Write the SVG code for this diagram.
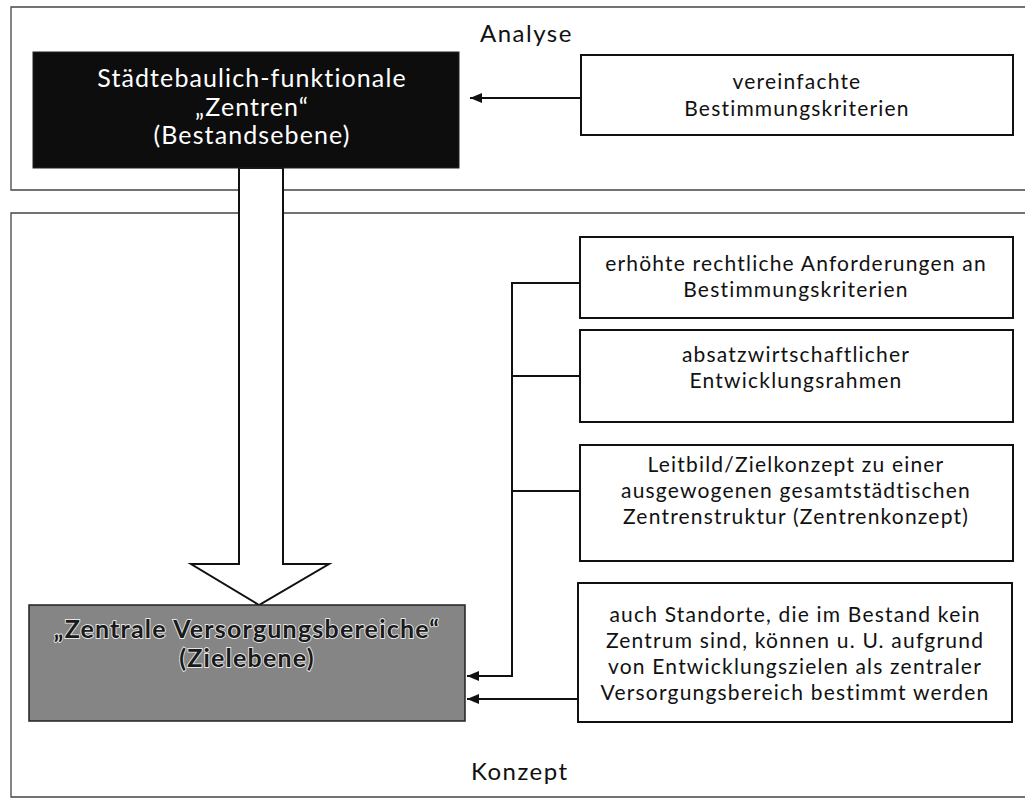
<svg xmlns="http://www.w3.org/2000/svg" width="1025" height="812" viewBox="0 0 1025 812">
<style>
.frame{fill:none;stroke:#444;stroke-width:1.3}
.box{fill:#fff;stroke:#111;stroke-width:2}
.t{font-family:Lato,"Noto Sans",sans-serif;font-size:21px;letter-spacing:1.2px;fill:#111;text-anchor:middle}
.lbl{font-family:Lato,"Noto Sans",sans-serif;font-size:24px;letter-spacing:1.5px;fill:#111}
.wt{font-family:Lato,"Noto Sans",sans-serif;font-size:25px;letter-spacing:1.1px;fill:#fff;text-anchor:middle}
.gt{font-family:Lato,"Noto Sans",sans-serif;font-size:25px;letter-spacing:1.2px;font-weight:bold;fill:#1a1a1a;stroke:#e6e6e6;stroke-width:1.8;paint-order:stroke;text-anchor:middle}
.ln{fill:none;stroke:#111;stroke-width:2}
</style>
<defs>
<marker id="ah" viewBox="0 0 12 10" refX="12" refY="5" markerWidth="12" markerHeight="10" markerUnits="userSpaceOnUse" orient="auto">
<path d="M0,0 L12,5 L0,10 Z" fill="#111"/>
</marker>
</defs>
<rect width="1025" height="812" fill="#fff"/>
<g id="frame-analyse">
<path class="frame" d="M1025,7 H11 V190 H1025"/>
<text class="lbl" x="480" y="42">Analyse</text>
</g>
<g id="frame-konzept">
<path class="frame" d="M1025,213 H11 V797 H1025"/>
<text class="lbl" x="471" y="780">Konzept</text>
</g>
<g id="big-arrow">
<polygon points="239,168 239,564 191,564 259,605 329,564 283,564 283,168" fill="#fff" stroke="#111" stroke-width="2" stroke-linejoin="miter"/>
</g>
<g id="zentren">
<rect x="33" y="52" width="426" height="116" fill="#0d0d0d" stroke="#222" stroke-width="1"/>
<text class="wt" x="252" y="87">Städtebaulich-funktionale</text>
<text class="wt" x="252" y="116">„Zentren“</text>
<text class="wt" x="252" y="144">(Bestandsebene)</text>
</g>
<g id="zvb">
<rect x="29" y="605" width="436" height="116" fill="#858585" stroke="#222" stroke-width="1.5"/>
<text class="gt" x="247" y="638">„Zentrale Versorgungsbereiche“</text>
<text class="gt" x="247" y="667">(Zielebene)</text>
</g>
<g id="box-vereinfacht">
<rect class="box" x="581" y="55" width="432" height="80"/>
<text class="t" x="797" y="89">vereinfachte</text>
<text class="t" x="797" y="116">Bestimmungskriterien</text>
</g>
<g id="box-erhoeht">
<rect class="box" x="580" y="237" width="433" height="81"/>
<text class="t" x="796" y="271">erhöhte rechtliche Anforderungen an</text>
<text class="t" x="796" y="297">Bestimmungskriterien</text>
</g>
<g id="box-absatz">
<rect class="box" x="580" y="330" width="433" height="92"/>
<text class="t" x="796" y="362">absatzwirtschaftlicher</text>
<text class="t" x="796" y="388">Entwicklungsrahmen</text>
</g>
<g id="box-leitbild">
<rect class="box" x="580" y="445" width="433" height="116"/>
<text class="t" x="796" y="472">Leitbild/Zielkonzept zu einer</text>
<text class="t" x="796" y="498">ausgewogenen gesamtstädtischen</text>
<text class="t" x="796" y="524">Zentrenstruktur (Zentrenkonzept)</text>
</g>
<g id="box-standorte">
<rect class="box" x="578" y="583" width="434" height="139"/>
<text class="t" x="795" y="622">auch Standorte, die im Bestand kein</text>
<text class="t" x="795" y="648">Zentrum sind, können u. U. aufgrund</text>
<text class="t" x="795" y="674">von Entwicklungszielen als zentraler</text>
<text class="t" x="795" y="700">Versorgungsbereich bestimmt werden</text>
</g>
<g id="connectors">
<line class="ln" x1="581" y1="98" x2="470" y2="98" marker-end="url(#ah)"/>
<path class="ln" d="M580,283 H512 V676 H467" marker-end="url(#ah)"/>
<line class="ln" x1="512" y1="376" x2="580" y2="376"/>
<line class="ln" x1="512" y1="491" x2="580" y2="491"/>
<line class="ln" x1="578" y1="699" x2="467" y2="699" marker-end="url(#ah)"/>
</g>
</svg>
